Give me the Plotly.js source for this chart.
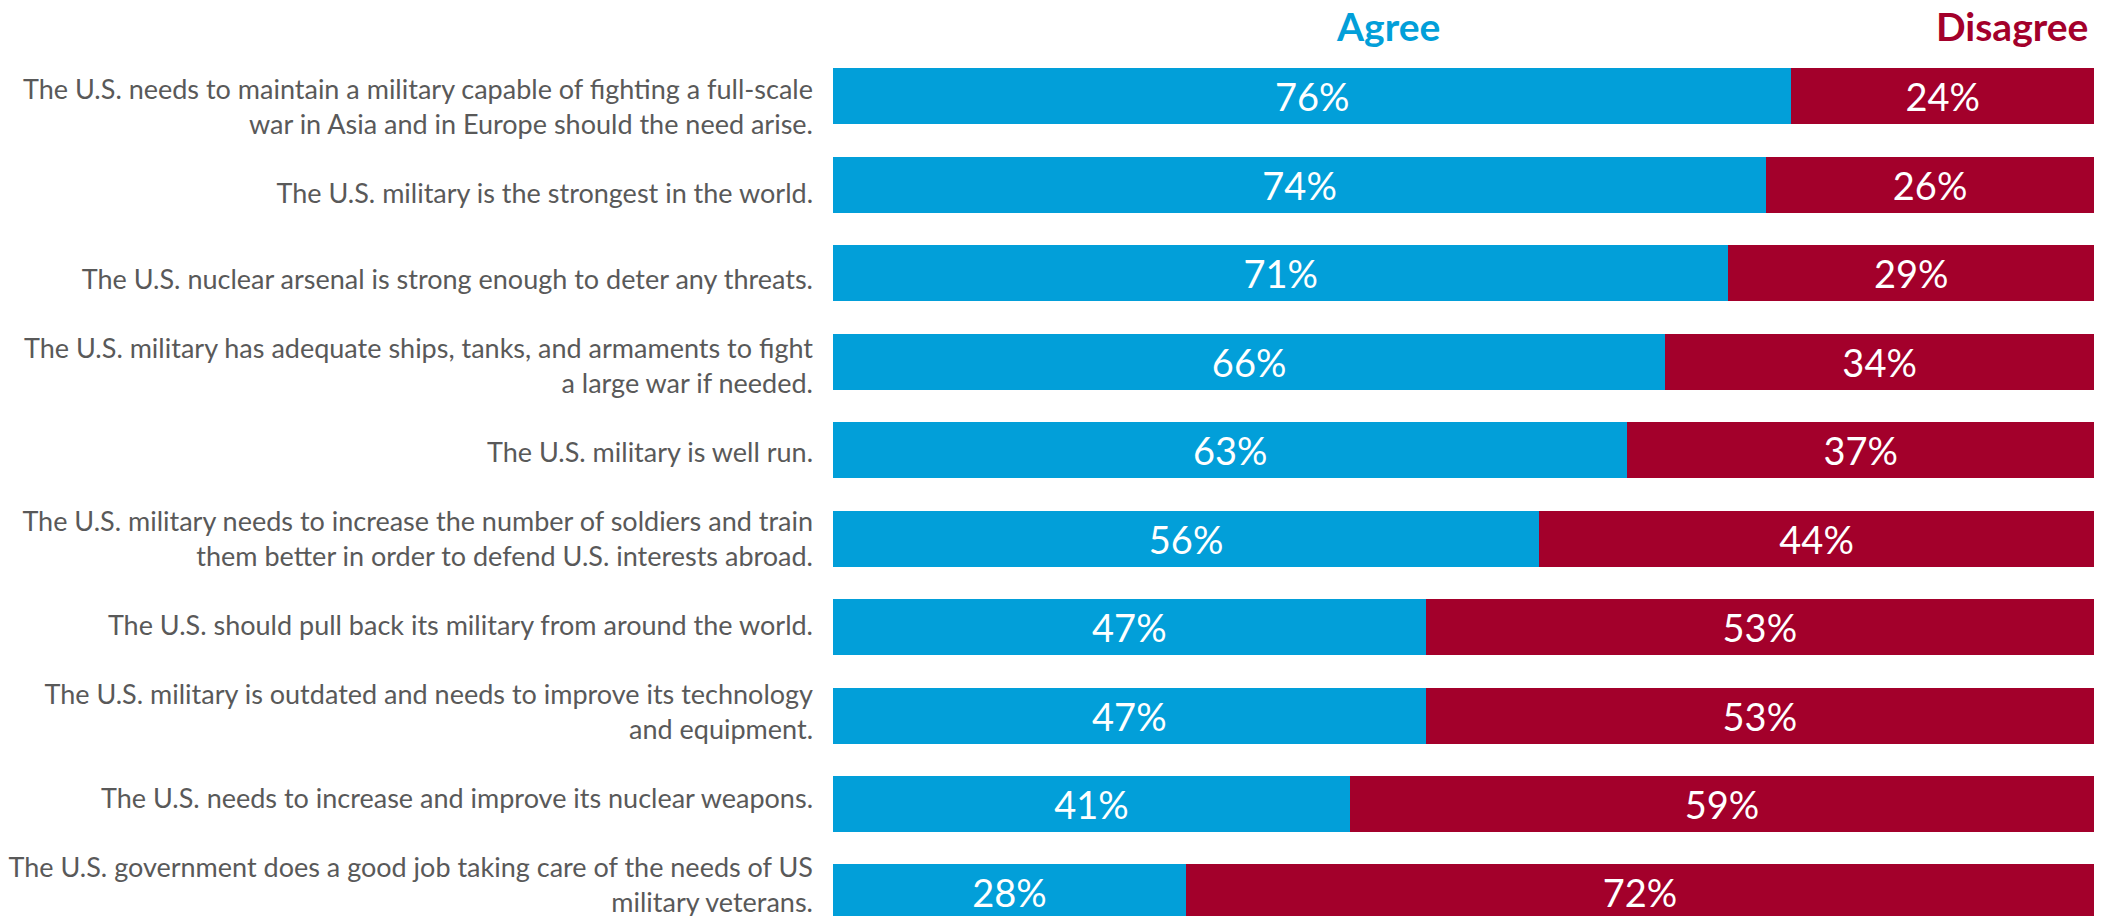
<!DOCTYPE html>
<html>
<head>
<meta charset="utf-8">
<script src="https://cdn.plot.ly/plotly-3.0.1.min.js"></script>
<style>
  html, body { margin: 0; padding: 0; background: #ffffff; }
  #chart { width: 2105px; height: 916px; }
</style>
</head>
<body>
<div id="chart"></div>
<script>
// ---- data ----
const statements = [
  "The U.S. needs to maintain a military capable of fighting a full-scale<br>war in Asia and in Europe should the need arise.",
  "The U.S. military is the strongest in the world.",
  "The U.S. nuclear arsenal is strong enough to deter any threats.",
  "The U.S. military has adequate ships, tanks, and armaments to fight<br>a large war if needed.",
  "The U.S. military is well run.",
  "The U.S. military needs to increase the number of soldiers and train<br>them better in order to defend U.S. interests abroad.",
  "The U.S. should pull back its military from around the world.",
  "The U.S. military is outdated and needs to improve its technology<br>and equipment.",
  "The U.S. needs to increase and improve its nuclear weapons.",
  "The U.S. government does a good job taking care of the needs of US<br>military veterans."
];
const agree    = [76, 74, 71, 66, 63, 56, 47, 47, 41, 28];
const disagree = [24, 26, 29, 34, 37, 44, 53, 53, 59, 72];
const seriesNames = ["Agree", "Disagree"];

// ---- styles ----
const BLUE = "#029fd9";
const RED = "#a3002b";
const FONT = "Lato, 'Open Sans', sans-serif";

const cats = statements.map((s, i) => i);

function barTrace(vals, name, color) {
  return {
    type: "bar",
    orientation: "h",
    name: name,
    y: cats,
    x: vals,
    marker: { color: color, line: { width: 0 } },
    text: vals.map(v => v + "%"),
    texttemplate: "%{text}",
    textposition: "inside",
    insidetextanchor: "middle",
    constraintext: "none",
    textfont: { family: FONT, size: 38, color: "#ffffff" },
    hoverinfo: "skip"
  };
}

const data = [
  barTrace(agree, seriesNames[0], BLUE),
  barTrace(disagree, seriesNames[1], RED),
  // invisible carrier so the statement-label axis is drawn
  {
    type: "scatter",
    mode: "markers",
    x: agree,
    y: cats,
    yaxis: "y2",
    marker: { opacity: 0, size: 1 },
    hoverinfo: "skip",
    showlegend: false
  }
];

const layout = {
  width: 2105,
  height: 916,
  margin: { l: 833, r: 11, t: 52, b: 0, pad: 0 },
  paper_bgcolor: "#ffffff",
  plot_bgcolor: "#ffffff",
  barmode: "stack",
  bargap: 0.367,
  showlegend: false,
  hovermode: false,
  xaxis: {
    range: [0, 100],
    visible: false,
    fixedrange: true
  },
  yaxis: {
    type: "linear",
    range: [9.266, -0.5],
    showticklabels: false,
    showgrid: false,
    zeroline: false,
    showline: false,
    ticks: "",
    automargin: false,
    fixedrange: true
  },
  // label axis: statement labels sit on a slightly tighter pitch than the bars
  yaxis2: {
    type: "linear",
    overlaying: "y",
    anchor: "x",
    side: "left",
    range: [9.3634, -0.6366],
    tickmode: "array",
    tickvals: cats,
    ticktext: statements,
    showgrid: false,
    zeroline: false,
    showline: false,
    ticks: "",
    ticklabelstandoff: 19,
    ticklabeloverflow: "allow",
    automargin: false,
    tickfont: { family: FONT, size: 27, color: "#595959" },
    fixedrange: true
  },
  annotations: [
    {
      text: "<b>" + seriesNames[0] + "</b>",
      xref: "x", yref: "paper", x: 44, y: 1.03,
      xanchor: "center", yanchor: "middle", showarrow: false,
      font: { family: FONT, size: 39, color: BLUE }
    },
    {
      text: "<b>" + seriesNames[1] + "</b>",
      xref: "x", yref: "paper", x: 93.5, y: 1.03,
      xanchor: "center", yanchor: "middle", showarrow: false,
      font: { family: FONT, size: 39, color: RED }
    }
  ]
};

Plotly.newPlot("chart", data, layout, { displayModeBar: false, staticPlot: true });
</script>
</body>
</html>
